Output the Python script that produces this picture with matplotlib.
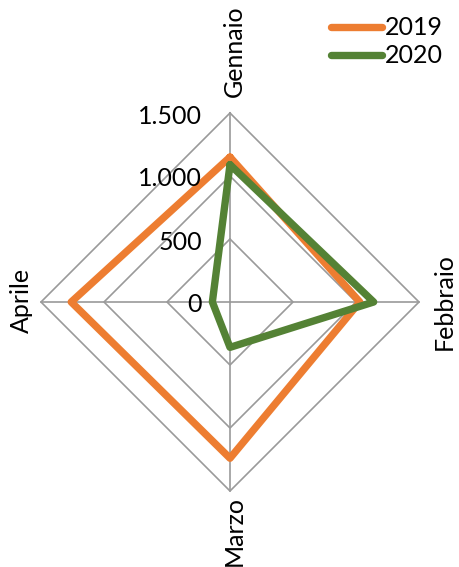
import numpy as np
import matplotlib
matplotlib.use("Agg")
import matplotlib.pyplot as plt

plt.rcParams['font.family'] = ['Lato', 'DejaVu Sans']

# dati
mesi = ['Gennaio', 'Febbraio', 'Marzo', 'Aprile']
v2019 = [1150, 1030, 1240, 1260]
v2020 = [1090, 1140, 360, 140]
livelli = [500, 1000, 1500]
etichette_livelli = ['0', '500', '1.000', '1.500']

col_2019 = '#ED7D31'
col_2020 = '#548235'
col_griglia = '#9A9A9A'

fig = plt.figure(figsize=(4.59, 5.67), dpi=100)
# centro a (230, 302) px, raggio 189 px
cx, cy, R = 230, 302, 189
W, H = 459, 567
ax = fig.add_axes([(cx - R) / W, (H - cy - R) / H, 2 * R / W, 2 * R / H], projection='polar')
ax.set_theta_zero_location('N')
ax.set_theta_direction(-1)
ax.set_ylim(0, 1500)
ax.grid(False)
ax.spines['polar'].set_visible(False)
ax.set_xticks([])
ax.set_yticks([])
ax.patch.set_alpha(0)

theta = np.linspace(0, 2 * np.pi, len(mesi), endpoint=False)
theta_c = np.append(theta, theta[0])

# griglia a rombo
for r in livelli:
    ax.plot(theta_c, [r] * len(theta_c), color=col_griglia, lw=1.2, zorder=1, clip_on=False)
for t in theta:
    ax.plot([t, t], [0, 1500], color=col_griglia, lw=1.2, zorder=1, clip_on=False)

# serie
for vals, col, lab in [(v2019, col_2019, '2019'), (v2020, col_2020, '2020')]:
    ax.plot(theta_c, list(vals) + [vals[0]], color=col, lw=5.3, label=lab,
            solid_joinstyle='round', solid_capstyle='round', zorder=3, clip_on=False)

# etichette dei valori
for r, lab in zip([0] + livelli, etichette_livelli):
    ax.annotate(lab, xy=(0, r), xytext=(-28, -3), textcoords='offset pixels',
                ha='right', va='center', fontsize=18, annotation_clip=False)

# etichette dei mesi
offs = [((4, 16), 'center', 'bottom'), ((14, 0), 'left', 'center'),
        ((4, -5), 'center', 'top'), ((-8, 2), 'right', 'center')]
for t, m, (o, ha, va) in zip(theta, mesi, offs):
    ax.annotate(m, xy=(t, 1500), xytext=o, textcoords='offset pixels',
                rotation=90, ha=ha, va=va, fontsize=18, annotation_clip=False)

fig.legend(loc='upper right', bbox_to_anchor=(1.0, 1.0), frameon=False,
           fontsize=18, handlelength=2.05, handletextpad=0.1, labelspacing=0.2,
           borderaxespad=0.25)

fig.savefig('out.png', dpi=100)
